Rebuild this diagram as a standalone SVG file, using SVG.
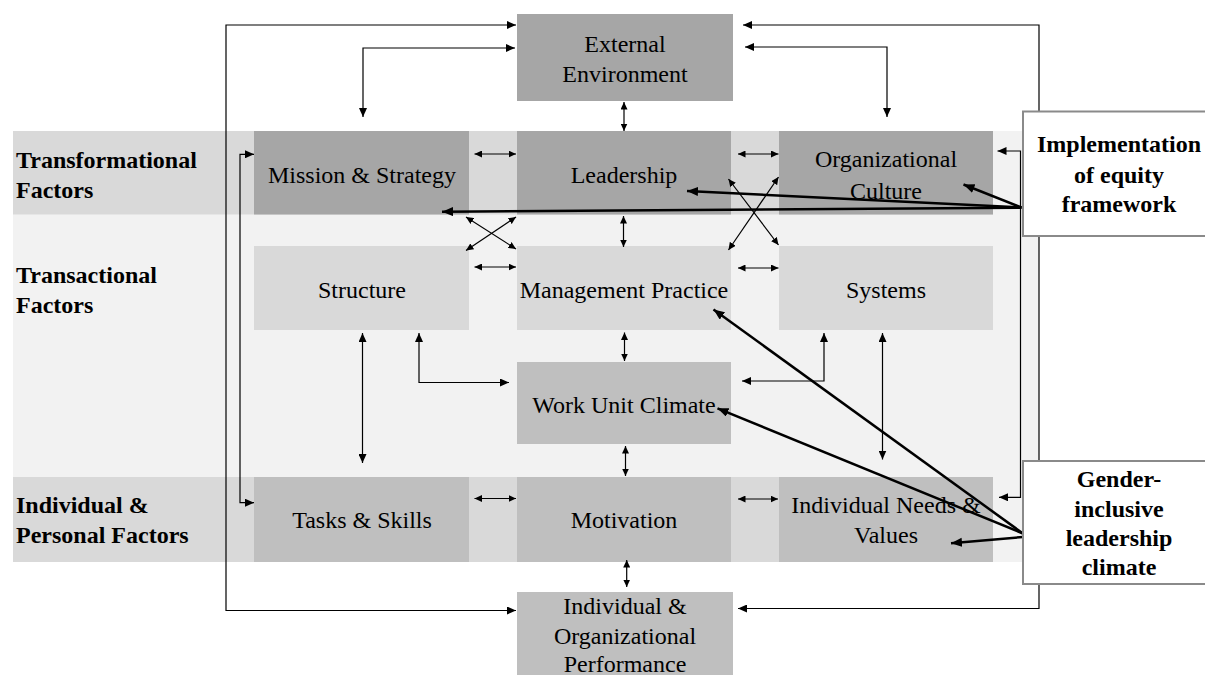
<svg xmlns="http://www.w3.org/2000/svg" width="1205" height="675" viewBox="0 0 1205 675">
<defs>
<marker id="a" markerUnits="userSpaceOnUse" markerWidth="10" markerHeight="8" refX="9" refY="4" orient="auto-start-reverse"><path d="M0,0 L9,4 L0,8 z" fill="#000"/></marker>
<marker id="s" markerUnits="userSpaceOnUse" markerWidth="8" markerHeight="7" refX="7.5" refY="3.5" orient="auto-start-reverse"><path d="M0,0 L7.5,3.5 L0,7 z" fill="#000"/></marker>
<marker id="b" markerUnits="userSpaceOnUse" markerWidth="12" markerHeight="10" refX="11" refY="4.5" orient="auto"><path d="M0,0 L11,4.5 L0,9 z" fill="#000"/></marker>
</defs>
<style>
text{font-family:"Liberation Serif","Times New Roman",serif;font-size:24px;fill:#000}
.c{text-anchor:middle}
.bd{font-weight:bold}
.dk{fill:#a6a6a6}
.lt{fill:#d9d9d9}
.md{fill:#bfbfbf}
.ln{fill:none;stroke:#000;stroke-width:1.2;marker-start:url(#a);marker-end:url(#a)}
.sh{fill:none;stroke:#000;stroke-width:1.2;marker-start:url(#s);marker-end:url(#s)}
.bl{fill:none;stroke:#000;stroke-width:2.5;marker-end:url(#b)}
.co{fill:#fff;stroke:#8a8a8a;stroke-width:2}
</style>
<rect width="1205" height="675" fill="#fff"/>
<g id="bands">
<rect x="13" y="131" width="1026" height="431" fill="#f2f2f2"/>
<rect x="13" y="131" width="980" height="83.5" fill="#d9d9d9"/>
<rect x="13" y="477" width="980" height="85" fill="#d9d9d9"/>
<text class="bd" x="16" y="168">Transformational</text>
<text class="bd" x="16" y="198">Factors</text>
<text class="bd" x="16" y="283">Transactional</text>
<text class="bd" x="16" y="313">Factors</text>
<text class="bd" x="16" y="513">Individual &amp;</text>
<text class="bd" x="16" y="543">Personal Factors</text>
</g>
<g id="external"><rect class="dk" x="517" y="14" width="216" height="87"/><text class="c" x="625" y="52">External</text><text class="c" x="625" y="82">Environment</text></g>
<g id="mission"><rect class="dk" x="254" y="131" width="215" height="83.5"/><text class="c" x="362" y="183">Mission &amp; Strategy</text></g>
<g id="leadership"><rect class="dk" x="517" y="131" width="214" height="83.5"/><text class="c" x="624" y="183">Leadership</text></g>
<g id="culture"><rect class="dk" x="779" y="131" width="214" height="83.5"/><text class="c" x="886" y="167">Organizational</text><text class="c" x="886" y="199">Culture</text></g>
<g id="structure"><rect class="lt" x="254" y="246" width="215" height="84"/><text class="c" x="362" y="298">Structure</text></g>
<g id="management"><rect class="lt" x="517" y="246" width="214" height="84"/><text class="c" x="624" y="298">Management Practice</text></g>
<g id="systems"><rect class="lt" x="779" y="246" width="214" height="84"/><text class="c" x="886" y="298">Systems</text></g>
<g id="workunit"><rect class="md" x="517" y="362" width="214" height="82"/><text class="c" x="624" y="413">Work Unit Climate</text></g>
<g id="tasks"><rect class="md" x="254" y="477" width="215" height="85"/><text class="c" x="362" y="528">Tasks &amp; Skills</text></g>
<g id="motivation"><rect class="md" x="517" y="477" width="214" height="85"/><text class="c" x="624" y="528">Motivation</text></g>
<g id="needs"><rect class="md" x="779" y="477" width="214" height="85"/><text class="c" x="886" y="513">Individual Needs &amp;</text><text class="c" x="886" y="543">Values</text></g>
<g id="performance"><rect class="md" x="517" y="592" width="216" height="90"/><text class="c" x="625" y="614">Individual &amp;</text><text class="c" x="625" y="644">Organizational</text><text class="c" x="625" y="672">Performance</text></g>
<g id="connectors">
<path class="ln" d="M516,25 H226 V610.5 H516"/>
<path class="ln" d="M743,25 H1039 V608.5 H738"/>
<path class="ln" d="M515,48 H363 V117"/>
<path class="ln" d="M745,47 H887 V117"/>
<path class="sh" d="M624,102 V131"/>
<path class="sh" d="M474.5,154 H516"/>
<path class="sh" d="M738,154 H778.5"/>
<path class="sh" d="M474.5,267 H516"/>
<path class="sh" d="M738,268 H778.5"/>
<path class="sh" d="M474.5,498.5 H516"/>
<path class="sh" d="M738,499 H778"/>
<path class="sh" d="M623.5,216 V247"/>
<path class="sh" d="M624.5,332.5 V361"/>
<path class="sh" d="M625.5,446 V476"/>
<path class="sh" d="M626.7,560 V587"/>
<path class="sh" d="M466,217 L516,249"/>
<path class="sh" d="M516,217 L466,250.5"/>
<path class="sh" d="M728.5,179 L778.5,245"/>
<path class="sh" d="M778.5,177 L728.5,250"/>
<path class="ln" d="M362.5,333 V463"/>
<path class="ln" d="M419,333 V382.5 H509"/>
<path class="ln" d="M824,333 V381 H742"/>
<path class="ln" d="M882.5,333 V459.5"/>
<path class="ln" d="M254,154.3 H240 V502.7 H254"/>
<path class="ln" d="M997.5,151 H1020.5 V497.3 H999"/>
<path class="bl" d="M1021.5,207.5 L963.5,184.5"/>
<path class="bl" d="M1021.5,207.5 L687,191"/>
<path class="bl" d="M1021.5,207.7 L442,211.7"/>
<path class="bl" d="M1023,533.5 L713.5,309.5"/>
<path class="bl" d="M1023,533.5 L717.5,408.3"/>
<path class="bl" d="M1023,537 L951,543.3"/>
</g>
<g id="equity">
<rect class="co" x="1023" y="111.5" width="195" height="124.5"/>
<text class="c bd" x="1119" y="152">Implementation</text>
<text class="c bd" x="1119" y="182.5">of equity</text>
<text class="c bd" x="1119" y="211.5">framework</text>
</g>
<g id="gender">
<rect class="co" x="1023" y="461" width="195" height="123"/>
<text class="c bd" x="1119" y="487">Gender-</text>
<text class="c bd" x="1119" y="517">inclusive</text>
<text class="c bd" x="1119" y="546">leadership</text>
<text class="c bd" x="1119" y="575">climate</text>
</g>
</svg>
